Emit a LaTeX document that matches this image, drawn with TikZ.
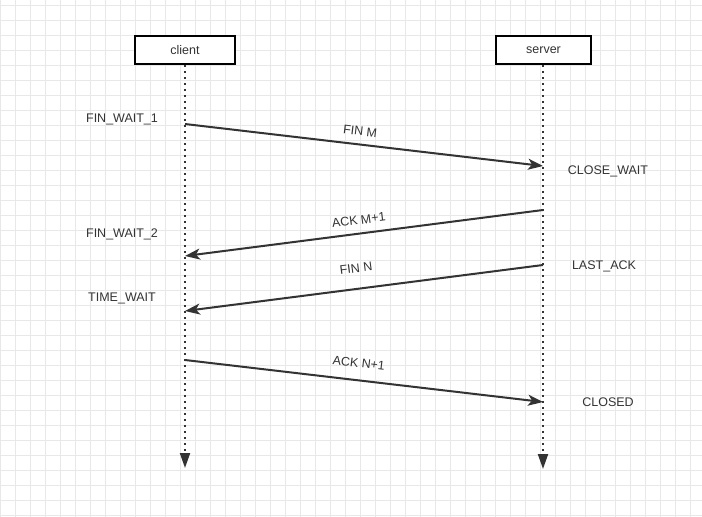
\documentclass[tikz,border=0pt]{standalone}
\usepackage{fontspec}
\setmainfont{Liberation Sans}
\usetikzlibrary{arrows.meta}
\definecolor{ink}{HTML}{333333}
\definecolor{gridc}{HTML}{E8E8E8}
\begin{document}
\begin{tikzpicture}[x=1pt,y=-1pt,
  txt/.style={font=\fontsize{12.5}{14}\selectfont, text=ink},
  box/.style={txt, draw=black, line width=2pt, fill=white, minimum height=28pt, inner sep=0pt},
  state/.style={txt, inner sep=0pt},
  life/.style={draw=ink, line width=2pt, dash pattern=on 2pt off 4pt, -{Triangle[length=15pt,width=10pt]}},
  msg/.style={draw=ink, line width=2pt, -{Stealth[length=15pt,width=11pt,inset=4pt]}},
  lbl/.style={txt, sloped, inner sep=0pt, above=8pt}
]
\useasboundingbox (0,0) rectangle (702,517);
\fill[white] (0,0) rectangle (702,517);
\foreach \x in {0,15,...,700} \draw[gridc, line width=1pt] (\x,0) -- (\x,517);
\foreach \y in {5,20,...,515} \draw[gridc, line width=1pt] (0,\y) -- (702,\y);

\node[box, minimum width=100pt] (client) at (185,50) {client};
\node[box, minimum width=95pt] (server) at (543.5,50) {server};

\coordinate (cend) at (185,468);
\coordinate (send) at (543,469);
\draw[life] (client.south) -- (cend);
\draw[life] (server.south -| send) -- (send);

\coordinate (c1) at (185,124);
\coordinate (s1) at (543,166);
\coordinate (s2) at (543,210);
\coordinate (c2) at (185,256);
\coordinate (s3) at (543,265);
\coordinate (c3) at (185,311);
\coordinate (c4) at (185,360);
\coordinate (s4) at (543,402);

\draw[msg] (c1) -- node[lbl, pos=0.485] {FIN M} (s1);
\draw[msg] (s2) -- node[lbl, pos=0.51] {ACK M+1} (c2);
\draw[msg] (s3) -- node[lbl, pos=0.515, above=7pt] {FIN N} (c3);
\draw[msg] (c4) -- node[lbl, pos=0.48, above=4pt] {ACK N+1} (s4);

\node[state] (fw1) at (122,119) {FIN\_WAIT\_1};
\node[state] (fw2) at (122,234) {FIN\_WAIT\_2};
\node[state] (tw) at (122,298) {TIME\_WAIT};
\node[state] (cw) at (608,171) {CLOSE\_WAIT};
\node[state] (la) at (604,266) {LAST\_ACK};
\node[state] (cl) at (608,402) {CLOSED};
\end{tikzpicture}
\end{document}
